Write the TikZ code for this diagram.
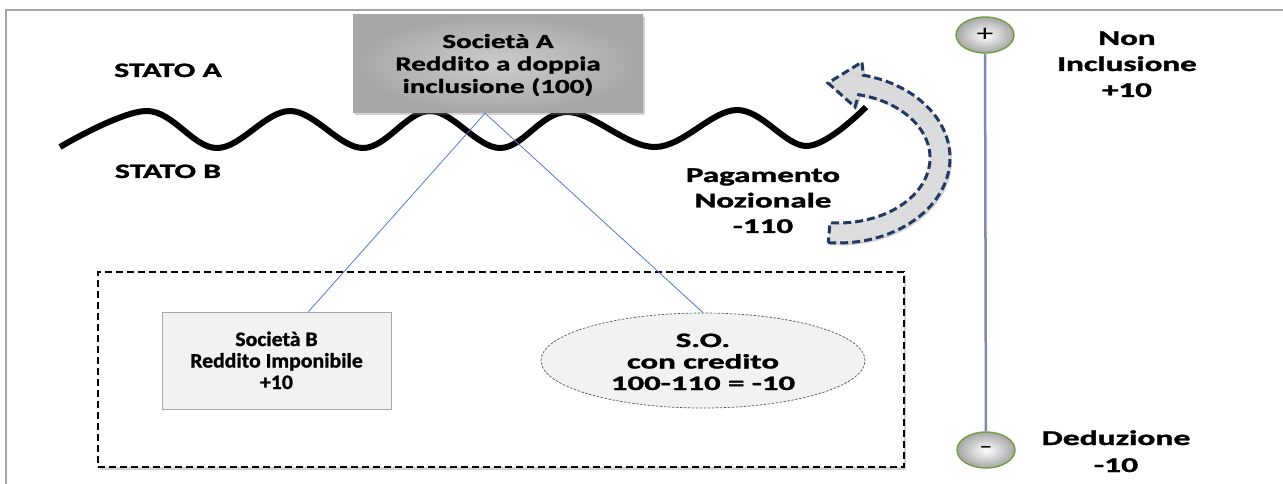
\documentclass[tikz,border=0pt]{standalone}
\usepackage{fontspec}
\setmainfont{Carlito}[BoldFeatures={FakeBold=1.2}]
\usepackage{graphicx}
\usetikzlibrary{shapes.geometric,shadows}
\definecolor{framegray}{HTML}{A6A6A6}
\definecolor{boxAgray}{HTML}{C4C4C4}
\definecolor{boxBfill}{HTML}{F2F2F2}
\definecolor{boxBdraw}{HTML}{A6A6A6}
\definecolor{elldraw}{HTML}{595959}
\definecolor{linkblue}{HTML}{4F7CC4}
\definecolor{vlinecol}{HTML}{7B8BAB}
\definecolor{circgreen}{HTML}{6F9E45}
\definecolor{navyline}{HTML}{1F3864}
\definecolor{arrowgray}{HTML}{C9C9C9}
% stretch, size, baselineskip, lines
\newcommand\wtxt[4]{\scalebox{#1}[1]{\fontsize{#2}{#3}\selectfont\bfseries\begin{tabular}[t]{@{}c@{}}#4\end{tabular}}}
\begin{document}
\begin{tikzpicture}[x=1pt,y=-1pt,
  lbl/.style={inner sep=0pt, anchor=base, text=black},
  link/.style={draw=linkblue, line width=0.8pt},
  softshadow/.style={drop shadow={opacity=0.35, shadow xshift=2pt, shadow yshift=-2.5pt}},
  endcirc/.style={ellipse, draw=circgreen, line width=1.4pt, inner color=white, outer color=black!35, minimum width=58pt, minimum height=36pt, inner sep=0pt},
]
\useasboundingbox (0,0) rectangle (1283,484);
\draw[framegray, line width=1.2pt] (6,484) -- (6,10) -- (1283,10);

% border between the two states
\draw[line width=6pt] plot[smooth, tension=0.6] coordinates {(60,147) (147,111) (217,148) (290,111) (363,148) (430,111) (500,148) (567,112) (655,147) (737,110) (807,146) (866,107)};

% notional payment arrow
\path[draw=navyline, line width=3pt, dash pattern=on 8pt off 4pt, top color=arrowgray!70, bottom color=arrowgray!110!black, softshadow]
  ([shift={(95:112 and 85)}]838,158) arc[start angle=95, end angle=-77, x radius=112, y radius=85]
  -- (862,62) -- (828,83) -- (855,107)
  -- ([shift={(-77:92 and 65)}]838,158) arc[start angle=-77, end angle=95, x radius=92, y radius=65]
  -- cycle;

% group box in state B
\node[draw, line width=1.8pt, dash pattern=on 7pt off 4pt, fill=white, minimum width=806pt, minimum height=195pt, inner sep=0pt, softshadow] (G) at (501,369.5) {};

% company A
\node[inner color=boxAgray!85, outer color=boxAgray!85!black, minimum width=290pt, minimum height=98pt, inner sep=0pt, softshadow] (A) at (498,64) {};
\node[lbl] (tA) at (498,48) {\wtxt{1.45}{20}{22.5}{Società A\\Reddito a doppia\\inclusione (100)}};

% company B
\node[draw=boxBdraw, line width=0.8pt, fill=boxBfill, minimum width=229pt, minimum height=97pt, inner sep=0pt] (B) at (276.5,360.5) {};
\node[lbl] (tB) at (276.5,346) {\wtxt{1.06}{20.5}{21.5}{Società B\\Reddito Imponibile\\+10}};

% S.O.
\node[ellipse, draw=elldraw, line width=0.7pt, dash pattern=on 2.5pt off 1.5pt, fill=boxBfill, minimum width=324pt, minimum height=95pt, inner sep=0pt] (E) at (703,360.5) {};
\node[lbl] (tE) at (703,347) {\wtxt{1.6}{20.5}{21.5}{S.O.\\con credito\\100-110 = -10}};

% connectors
\coordinate (apex) at ([xshift=-13pt]A.south);
\draw[link] (apex) -- ([xshift=32pt]B.north);
\draw[link] (apex) -- (E.north);

% labels
\node[lbl] (sA) at (168,77) {\wtxt{1.55}{20.5}{22}{STATO A}};
\node[lbl] (sB) at (168,178) {\wtxt{1.55}{20.5}{22}{STATO B}};
\node[lbl] (pay) at (763,182) {\wtxt{1.57}{21}{25.5}{Pagamento\\Nozionale\\-110}};

% scale
\node[endcirc] (P) at (985,35) {\scalebox{1.4}[1]{\fontsize{24}{24}\selectfont +}};
\node[endcirc] (M) at (986,450) {\scalebox{1.8}[1]{\fontsize{22}{22}\selectfont -}};
\draw[vlinecol, line width=2.5pt] (P) -- (M);
\node[lbl] (ni) at (1127,45) {\wtxt{1.57}{21}{26}{Non\\Inclusione\\+10}};
\node[lbl] (de) at (1116,445) {\wtxt{1.6}{21}{27}{Deduzione\\-10}};
\end{tikzpicture}
\end{document}
